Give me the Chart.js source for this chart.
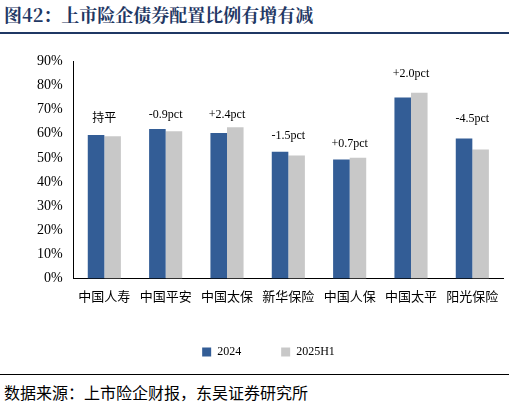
<!DOCTYPE html>
<html><head><meta charset="utf-8">
<script src="https://cdn.jsdelivr.net/npm/chart.js@4"></script>
<style>
body{margin:0;width:509px;height:413px;background:#fff;font-family:"Noto Sans CJK SC";position:relative;overflow:hidden}
#title{position:absolute;left:4px;top:1px;font-size:18px;font-weight:bold;color:#1f3864;font-family:"Noto Serif CJK SC","Noto Sans CJK SC"}
#tl{position:absolute;left:0;top:32px;width:509px;height:2px;background:#1f3864}
#bl{position:absolute;left:0;top:374px;width:509px;height:1px;background:#000}
#src{position:absolute;left:4px;top:380px;font-size:16px;color:#000}
#wrap{position:absolute;left:34px;top:50px;width:471px;height:318px}
</style></head><body>
<div id="title">图42：上市险企债券配置比例有增有减</div>
<div id="tl"></div>
<div id="wrap"><canvas id="c"></canvas></div>
<div id="bl"></div>
<div id="src">数据来源：上市险企财报，东吴证券研究所</div>
<script>
const categories=["中国人寿","中国平安","中国太保","新华保险","中国人保","中国太平","阳光保险"];
const s2024=[59.5,62.0,60.3,52.5,49.3,75.0,58.0];
const s2025=[59.0,61.0,62.7,51.0,50.0,77.0,53.5];
const notes=["持平","-0.9pct","+2.4pct","-1.5pct","+0.7pct","+2.0pct","-4.5pct"];
const noteY=[66,68,68,59,56,85,66];
const notePlugin={id:'notes',afterDatasetsDraw(ch){const c=ch.ctx,x=ch.scales.x,y=ch.scales.y;c.save();c.font='12px "Times New Roman","Liberation Serif","Noto Sans CJK SC"';c.fillStyle='#000';c.textAlign='center';c.textBaseline='middle';notes.forEach((n,i)=>c.fillText(n,x.getPixelForValue(i),y.getPixelForValue(noteY[i])));c.restore();}};
new Chart(document.getElementById('c'),{type:'bar',data:{labels:categories,datasets:[
{label:'2024',data:s2024,backgroundColor:'#335d96',barPercentage:1,categoryPercentage:0.54},
{label:'2025H1',data:s2025,backgroundColor:'#c8c8c8',barPercentage:1,categoryPercentage:0.54}]},
options:{responsive:true,maintainAspectRatio:false,animation:false,
layout:{padding:{right:2}},
plugins:{legend:{position:'bottom',labels:{boxWidth:9,boxHeight:9,font:{size:12,family:'"Times New Roman","Liberation Serif"'},color:'#000',padding:40}},tooltip:{enabled:false}},
scales:{x:{grid:{display:false},border:{color:'#000'},ticks:{color:'#000',font:{size:13,family:'"Noto Sans CJK SC"'},maxRotation:0,autoSkip:false,padding:2}},
y:{min:0,max:90,ticks:{stepSize:10,color:'#000',font:{size:14,family:'"Times New Roman","Liberation Serif"'},callback:v=>v+'%'},grid:{display:false},border:{color:'#000'}}}},
plugins:[notePlugin]});
</script></body></html>
